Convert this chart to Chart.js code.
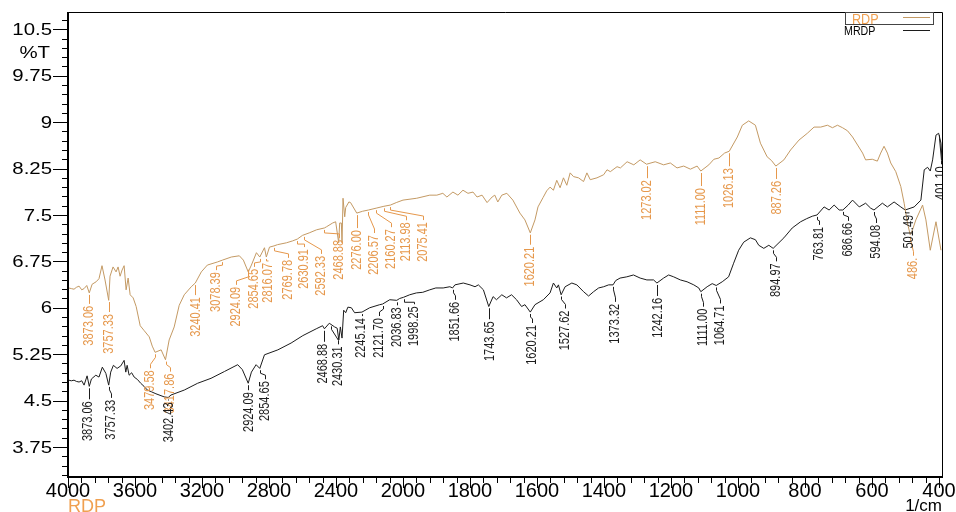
<!DOCTYPE html>
<html>
<head>
<meta charset="utf-8">
<script src="https://cdn.jsdelivr.net/npm/chart.js@4.4.1/dist/chart.umd.min.js"></script>
<style>
  html, body { margin: 0; padding: 0; background: #ffffff; }
  #wrap { width: 956px; height: 512px; position: relative; }
</style>
</head>
<body>
<div id="wrap"><canvas id="ftir" width="956" height="512"></canvas></div>
<script>
// ---- FTIR spectra (wavenumber in 1/cm, transmittance in %T) ----
const rdpWavenumbers = [3996,3980,3964,3950,3934,3918,3904,3888,3873,3856,3832,3815,3797,3779,3757,3749,3731,3713,3701,3689,3677,3665,3653,3641,3629,3611,3593,3569,3545,3515,3497,3480,3444,3418,3396,3366,3336,3306,3264,3240,3204,3168,3108,3078,3025,2977,2953,2924,2905,2875,2855,2827,2816,2797,2770,2749,2696,2660,2631,2600,2560,2516,2469,2456,2420,2402,2384,2378,2368,2364,2358,2348,2342,2323,2313,2276,2241,2206,2160,2114,2075,2040,2000,1959,1920,1899,1881,1869,1851,1836,1821,1806,1791,1779,1764,1749,1734,1726,1717,1705,1690,1672,1651,1636,1620,1606,1597,1582,1571,1561,1551,1541,1531,1521,1511,1501,1491,1476,1461,1451,1441,1421,1401,1391,1381,1361,1351,1331,1311,1292,1273,1247,1222,1202,1182,1162,1142,1122,1111,1087,1072,1057,1040,1026,1002,987,968,948,933,913,900,887,863,843,818,793,773,753,733,718,703,688,673,658,643,628,619,599,584,574,564,554,544,529,514,504,494,486,479,469,449,439,426,409,394];
const rdpTransmittance = [6.32,6.31,6.30,6.33,6.35,6.29,6.31,6.36,6.24,6.38,6.42,6.47,6.68,6.45,6.12,6.51,6.66,6.58,6.66,6.51,6.61,6.68,6.29,6.48,6.21,6.16,6.02,5.71,5.63,5.53,5.38,5.28,5.32,5.16,5.48,5.69,6.04,6.21,6.34,6.40,6.58,6.69,6.74,6.77,6.82,6.84,6.77,6.58,6.69,6.89,6.82,6.97,6.82,6.98,7.00,7.02,7.05,7.08,7.11,7.17,7.21,7.26,7.29,7.31,7.37,7.39,7.05,7.37,7.37,7.05,7.77,7.47,7.62,7.71,7.70,7.53,7.56,7.58,7.61,7.64,7.66,7.70,7.74,7.77,7.82,7.82,7.85,7.79,7.87,7.82,7.90,7.85,7.87,7.79,7.82,7.70,7.79,7.82,7.71,7.82,7.85,7.74,7.53,7.42,7.21,7.42,7.63,7.78,7.89,7.95,7.90,8.06,7.94,8.10,7.98,8.18,8.12,8.10,8.04,8.18,8.07,8.10,8.15,8.23,8.20,8.28,8.26,8.36,8.31,8.39,8.32,8.36,8.31,8.34,8.26,8.29,8.24,8.29,8.21,8.31,8.40,8.42,8.50,8.53,8.76,8.95,9.02,8.95,8.66,8.44,8.38,8.29,8.39,8.55,8.71,8.82,8.92,8.92,8.95,8.91,8.95,8.91,8.86,8.76,8.63,8.50,8.39,8.40,8.37,8.50,8.61,8.50,8.34,8.20,7.96,7.69,7.37,7.18,7.26,7.42,7.66,7.42,6.93,7.39,6.93];

const mrdpWavenumbers = [3996,3980,3964,3950,3934,3918,3904,3886,3873,3860,3834,3815,3795,3774,3757,3745,3729,3707,3685,3665,3655,3647,3635,3620,3605,3585,3566,3546,3526,3500,3475,3426,3402,3385,3306,3226,3146,3066,2987,2959,2924,2905,2877,2855,2827,2747,2668,2598,2518,2480,2469,2440,2408,2393,2383,2374,2364,2354,2342,2329,2308,2289,2245,2199,2139,2122,2079,2037,2020,1998,1980,1960,1941,1920,1902,1880,1860,1852,1845,1820,1800,1785,1775,1760,1744,1731,1721,1705,1691,1676,1661,1646,1636,1620,1606,1581,1561,1551,1541,1536,1528,1516,1496,1481,1461,1446,1431,1416,1401,1386,1373,1365,1352,1332,1312,1292,1272,1252,1242,1222,1207,1192,1172,1152,1132,1117,1111,1092,1077,1065,1047,1028,1013,998,983,963,948,938,923,908,895,863,838,813,795,778,764,743,728,713,698,687,671,658,638,619,604,594,569,554,534,514,501,474,454,444,434,426,419,409,401,394,391];
const mrdpTransmittance = [4.83,4.82,4.83,4.81,4.80,4.82,4.75,4.90,4.73,4.85,4.91,4.88,5.04,4.94,4.75,4.96,5.07,5.02,5.06,5.15,4.96,5.07,4.91,4.95,4.88,4.84,4.78,4.73,4.67,4.64,4.61,4.56,4.55,4.59,4.67,4.78,4.86,4.97,5.08,5.00,4.78,4.96,5.08,5.02,5.24,5.32,5.43,5.55,5.66,5.71,5.66,5.75,5.69,5.67,5.48,5.69,5.51,5.96,5.92,6.01,6.00,5.92,5.93,6.00,6.05,6.06,6.13,6.12,6.15,6.17,6.21,6.24,6.25,6.29,6.32,6.32,6.34,6.32,6.37,6.40,6.37,6.34,6.37,6.29,6.02,6.18,6.13,6.21,6.16,6.21,6.13,6.02,6.05,5.93,6.05,6.13,6.24,6.40,6.32,6.37,6.21,6.34,6.40,6.37,6.26,6.19,6.26,6.32,6.34,6.37,6.37,6.44,6.48,6.50,6.53,6.48,6.45,6.45,6.40,6.48,6.53,6.50,6.45,6.42,6.37,6.32,6.26,6.34,6.39,6.36,6.42,6.50,6.72,6.93,7.06,7.13,7.10,7.01,6.96,7.01,6.96,7.13,7.29,7.39,7.44,7.48,7.50,7.63,7.58,7.66,7.58,7.58,7.66,7.74,7.63,7.69,7.61,7.58,7.69,7.63,7.71,7.63,7.58,7.63,7.74,8.23,8.27,8.21,8.39,8.79,8.82,8.66,8.39];

// Peak labels (text shows the band position)
const rdpPeakLabels = ['3873.06','3757.33','3479.58','3417.86','3240.41','3078.39','2924.09','2854.65','2816.07','2769.78','2630.91','2592.33','2468.88','2276.00','2206.57','2160.27','2113.98','2075.41','1620.21','1273.02','1111.00','1026.13','887.26','486.'];
const mrdpPeakLabels = ['3873.06','3757.33','3402.43','2924.09','2854.65','2468.88','2430.31','2245.14','2121.70','2036.83','1998.25','1851.66','1743.65','1620.21','1527.62','1373.32','1242.16','1111.00','1064.71','894.97','763.81','686.66','594.08','501.49','401.10'];

// Axis ticks
const xTickLabels = [4000,3600,3200,2800,2400,2000,1800,1600,1400,1200,1000,800,600,400];
const yTickLabels = ['3.75','4.5','5.25','6','6.75','7.5','8.25','9','9.75','10.5'];

// ---- label placement: [horizontal shift of text (px), distance from band to text (px)] ----
const rdpLabelPlacement = [[0,13],[0,14],[-5,18],[4,14],[1,14],[-6,12],[-12,15],[-6,12],[2,6],[14,14],[7,10],[17,21],[15,12],[0,17],[6,25],[15,21],[22,16],[33,17],[0,14],[0,16],[0,17],[0,17],[1,15],[3,23]];
const mrdpLabelPlacement = [[-1,15],[2,15],[1,5],[1,9],[5,13],[-1,15],[7,22],[-1,6],[-4,14],[0,7],[10,9],[2,14],[1,15],[2,13],[4,16],[2,19],[1,15],[2,17],[4,20],[3,15],[2,12],[5,13],[2,15],[4,5],[2,33]];

const RDP_LINE = '#c49a64';
const RDP_TEXT = '#e6984c';
const MRDP_LINE = '#1c1c1c';
const FONT = '"Liberation Sans", Arial, sans-serif';

// Wavenumber axis: 400 1/cm per division above 2000, 200 1/cm per division below
function warp(w) { return w >= 2000 ? (4000 - w) / 400 : 5 + (2000 - w) / 200; }
function unwarp(t) { return t <= 5 ? 4000 - 400 * t : 2000 - 200 * (t - 5); }

class WavenumberScale extends Chart.LinearScale {
  getPixelForValue(value) {
    if (value === null || value === undefined || isNaN(value)) return NaN;
    const a = warp(this.max), b = warp(this.min);
    return this.getPixelForDecimal((warp(value) - a) / (b - a));
  }
  getValueForPixel(pixel) {
    const a = warp(this.max), b = warp(this.min);
    return unwarp(a + this.getDecimalForPixel(pixel) * (b - a));
  }
}
WavenumberScale.id = 'wavenumber';
WavenumberScale.defaults = Chart.LinearScale.defaults;
Chart.register(WavenumberScale);

function zip(ws, vs) { return ws.map((w, i) => ({ x: w, y: vs[i] })); }

function valueAt(ws, vs, w) {
  for (let i = 0; i < ws.length - 1; i++) {
    const a = ws[i], b = ws[i + 1];
    if (a >= w && w >= b) {
      const f = a === b ? 0 : (a - w) / (a - b);
      return vs[i] + (vs[i + 1] - vs[i]) * f;
    }
  }
  return vs[vs.length - 1];
}

function drawPeakLabels(chart, labels, placement, ws, vs, color) {
  const ctx = chart.ctx, xs = chart.scales.x, ys = chart.scales.y;
  labels.forEach((text, i) => {
    const wn = parseFloat(text);
    const [dx, gap] = placement[i];
    const ax = Math.round(xs.getPixelForValue(wn)) + 0.5;
    const ay = ys.getPixelForValue(valueAt(ws, vs, wn));
    const tx = ax + dx;
    const top = ay + gap;
    ctx.strokeStyle = color;
    ctx.lineWidth = 1;
    ctx.beginPath();
    const y0 = ay + 2, y3 = top - 2;
    if (y3 > y0) {
      if (Math.abs(dx) < 1.5) {
        ctx.moveTo(ax, y0); ctx.lineTo(ax, y3);
      } else {
        const y1 = Math.min(y0 + 3, y3);
        const y2 = Math.max(y3 - 4, y1);
        ctx.moveTo(ax, y0); ctx.lineTo(ax, y1); ctx.lineTo(tx, y2); ctx.lineTo(tx, y3);
      }
      ctx.stroke();
    }
    ctx.save();
    ctx.translate(tx, top);
    ctx.scale(1.28, 1);
    ctx.rotate(-Math.PI / 2);
    ctx.font = '11px ' + FONT;
    ctx.textAlign = 'right';
    ctx.textBaseline = 'middle';
    ctx.fillStyle = color;
    ctx.fillText(text, 0, 0);
    ctx.restore();
  });
}

function stretchedText(ctx, text, x, y, font, sx, align, baseline, color) {
  ctx.save();
  ctx.translate(x, y);
  ctx.scale(sx, 1);
  ctx.font = font;
  ctx.textAlign = align;
  ctx.textBaseline = baseline;
  ctx.fillStyle = color;
  ctx.fillText(text, 0, 0);
  ctx.restore();
}

const decor = {
  id: 'spectrumDecor',
  beforeDraw(chart) {
    const ctx = chart.ctx;
    ctx.save();
    ctx.fillStyle = '#ffffff';
    ctx.fillRect(0, 0, chart.width, chart.height);
    ctx.restore();
  },
  afterDatasetsDraw(chart) {
    const ctx = chart.ctx, area = chart.chartArea;
    const xs = chart.scales.x, ys = chart.scales.y;

    // band annotations
    ctx.save();
    ctx.beginPath();
    ctx.rect(area.left, area.top, area.right - area.left, area.bottom - area.top);
    ctx.clip();
    drawPeakLabels(chart, rdpPeakLabels, rdpLabelPlacement, rdpWavenumbers, rdpTransmittance, RDP_TEXT);
    drawPeakLabels(chart, mrdpPeakLabels, mrdpLabelPlacement, mrdpWavenumbers, mrdpTransmittance, MRDP_LINE);
    ctx.restore();

    ctx.save();
    // frame
    ctx.strokeStyle = '#000';
    ctx.lineWidth = 1;
    ctx.beginPath();
    ctx.moveTo(area.left, area.top + 0.5); ctx.lineTo(area.right + 0.5, area.top + 0.5);
    ctx.lineTo(area.right + 0.5, area.bottom);
    ctx.stroke();
    ctx.lineWidth = 2;
    ctx.beginPath();
    ctx.moveTo(area.left, area.top); ctx.lineTo(area.left, area.bottom);
    ctx.lineTo(area.right + 1, area.bottom);
    ctx.stroke();

    // y ticks
    ctx.lineWidth = 1;
    ctx.beginPath();
    const yMajor = yTickLabels.map(Number);
    for (let k = 0; k <= 49; k++) {
      const v = 3.3 + 0.15 * k;
      if (v > ys.max) break;
      const isMajor = yMajor.some(m => Math.abs(m - v) < 1e-6);
      const py = Math.round(ys.getPixelForValue(v)) + 0.5;
      ctx.moveTo(area.left - (isMajor ? 15 : 6), py);
      ctx.lineTo(area.left, py);
    }
    // x ticks
    for (let i = 0; i < xTickLabels.length; i++) {
      const px = Math.round(xs.getPixelForValue(xTickLabels[i])) + 0.5;
      ctx.moveTo(px, area.bottom); ctx.lineTo(px, area.bottom + 11);
      if (i < xTickLabels.length - 1) {
        const a = xTickLabels[i], b = xTickLabels[i + 1];
        for (let s = 1; s < 5; s++) {
          const mx = Math.round(xs.getPixelForValue(a + (b - a) * s / 5)) + 0.5;
          ctx.moveTo(mx, area.bottom); ctx.lineTo(mx, area.bottom + 6);
        }
      }
    }
    ctx.stroke();

    // tick labels
    yTickLabels.forEach(t => {
      stretchedText(ctx, t, area.left - 16, ys.getPixelForValue(Number(t)) + 1, '17px ' + FONT, 1.2, 'right', 'middle', '#000');
    });
    stretchedText(ctx, '%T', area.left - 18, ys.getPixelForValue(10.125) + 0.5, '17px ' + FONT, 1.2, 'right', 'middle', '#000');
    xTickLabels.forEach(t => {
      stretchedText(ctx, String(t), xs.getPixelForValue(t), area.bottom + 20, '20px ' + FONT, 1.0, 'center', 'alphabetic', '#000');
    });
    stretchedText(ctx, 'RDP', area.left, 512, '18px ' + FONT, 1.0, 'left', 'alphabetic', '#f0a050');
    stretchedText(ctx, '1/cm', area.right, 511, '17px ' + FONT, 1.0, 'right', 'alphabetic', '#000');

    // legend
    ctx.strokeStyle = '#444';
    ctx.lineWidth = 1;
    ctx.strokeRect(845.5, 12.5, 88, 12);
    stretchedText(ctx, 'RDP', 852, 23.5, '14px ' + FONT, 0.9, 'left', 'alphabetic', '#f0a050');
    stretchedText(ctx, 'MRDP', 844, 35, '13px ' + FONT, 0.82, 'left', 'alphabetic', '#000');
    ctx.beginPath();
    ctx.strokeStyle = RDP_LINE;
    ctx.moveTo(903, 17.5); ctx.lineTo(930, 17.5);
    ctx.stroke();
    ctx.beginPath();
    ctx.strokeStyle = MRDP_LINE;
    ctx.moveTo(903, 30.5); ctx.lineTo(930, 30.5);
    ctx.stroke();
    ctx.restore();
  }
};

new Chart(document.getElementById('ftir'), {
  type: 'line',
  data: {
    datasets: [
      { label: 'RDP', data: zip(rdpWavenumbers, rdpTransmittance), borderColor: RDP_LINE, borderWidth: 1, pointRadius: 0, tension: 0, fill: false },
      { label: 'MRDP', data: zip(mrdpWavenumbers, mrdpTransmittance), borderColor: MRDP_LINE, borderWidth: 1, pointRadius: 0, tension: 0, fill: false }
    ]
  },
  options: {
    responsive: false,
    animation: false,
    events: [],
    layout: { padding: { left: 68, top: 12, right: 14, bottom: 35 } },
    plugins: { legend: { display: false }, tooltip: { enabled: false } },
    scales: {
      x: { type: 'wavenumber', min: 391, max: 4000, display: false },
      y: { type: 'linear', min: 3.265, max: 10.78, display: false }
    }
  },
  plugins: [decor]
});
</script>
</body>
</html>
